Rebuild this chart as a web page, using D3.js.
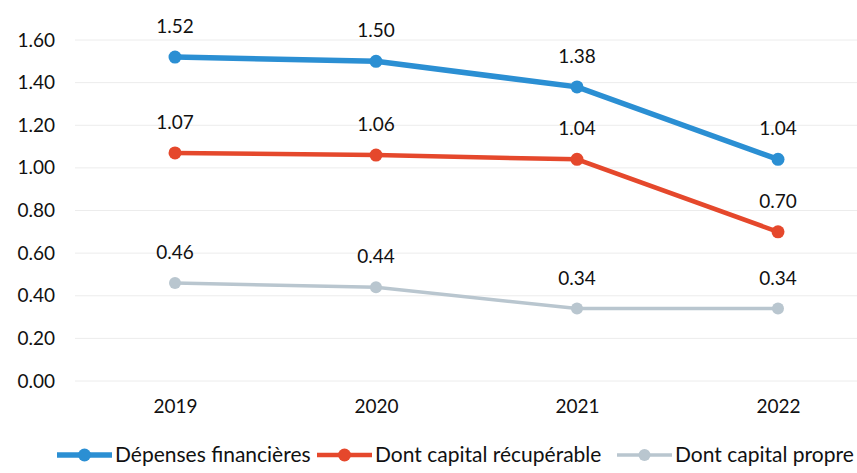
<!DOCTYPE html>
<html>
<head>
<meta charset="utf-8">
<script src="https://cdn.jsdelivr.net/npm/d3@7"></script>
<style>
  body { margin: 0; background: #fff; }
  svg { display: block; font-family: Lato, "Open Sans", sans-serif; }
</style>
</head>
<body>
<svg id="chart"></svg>
<script>
"use strict"

const WIDTH = 857;
const HEIGHT = 473;
const MARGIN = { left: 75, right: 0, top: 40, bottom: 92 };

// data
const YEARS = ["2019", "2020", "2021", "2022"];
const DEPENSES = [1.52, 1.50, 1.38, 1.04];
const CAPITAL_RECUP = [1.07, 1.06, 1.04, 0.70];
const CAPITAL_PROPRE = [0.46, 0.44, 0.34, 0.34];
const Y_TICKS = [0, 0.2, 0.4, 0.6, 0.8, 1.0, 1.2, 1.4, 1.6];

const SERIES = [
    { name: "Dépenses financières", values: DEPENSES, color: "#2b8fd3", width: 5.5, r: 6.5 },
    { name: "Dont capital récupérable", values: CAPITAL_RECUP, color: "#e5482c", width: 4.5, r: 6.5 },
    { name: "Dont capital propre", values: CAPITAL_PROPRE, color: "#b9c6cf", width: 3.5, r: 6 }
];

const svg = d3.select("#chart").attr("width", WIDTH).attr("height", HEIGHT);

const x = d3.scalePoint(YEARS, [175, 778]);
const y = d3.scaleLinear([0, 1.6], [HEIGHT - MARGIN.bottom, MARGIN.top]);

// gridlines
svg.append("g")
    .selectAll("line")
    .data(Y_TICKS)
    .join("line")
    .attr("x1", MARGIN.left)
    .attr("x2", WIDTH - MARGIN.right)
    .attr("y1", d => y(d))
    .attr("y2", d => y(d))
    .attr("stroke", "#ececec")
    .attr("stroke-width", 1);

// y axis labels
const yAxis = svg.append("g")
    .attr("transform", `translate(${MARGIN.left - 20},0)`)
    .call(d3.axisLeft(y).tickValues(Y_TICKS).tickFormat(d3.format(".2f")).tickSize(0).tickPadding(0));
yAxis.select(".domain").remove();
yAxis.selectAll("text")
    .attr("font-size", 19)
    .attr("font-family", "Lato, sans-serif")
    .attr("fill", "#111");

// x axis labels
const xAxis = svg.append("g")
    .attr("transform", `translate(0,${HEIGHT - MARGIN.bottom + 18})`)
    .call(d3.axisBottom(x).tickSize(0).tickPadding(0));
xAxis.select(".domain").remove();
xAxis.selectAll("text")
    .attr("font-size", 19)
    .attr("font-family", "Lato, sans-serif")
    .attr("fill", "#111");

const line = d3.line()
    .x((d, i) => x(YEARS[i]))
    .y(d => y(d));

// draw series back to front
const series = svg.append("g");
SERIES.slice().reverse().forEach(s => {
    const g = series.append("g");
    g.append("path")
        .attr("d", line(s.values))
        .attr("fill", "none")
        .attr("stroke", s.color)
        .attr("stroke-width", s.width);
    g.selectAll("circle")
        .data(s.values)
        .join("circle")
        .attr("cx", (d, i) => x(YEARS[i]))
        .attr("cy", d => y(d))
        .attr("r", s.r)
        .attr("fill", s.color);
    g.selectAll("text")
        .data(s.values)
        .join("text")
        .attr("x", (d, i) => x(YEARS[i]))
        .attr("y", d => y(d) - 24)
        .attr("text-anchor", "middle")
        .attr("font-size", 19)
        .attr("fill", "#111")
        .text(d => d3.format(".2f")(d));
});

// legend
const LEGEND_X = [57, 317, 617];
const legend = svg.append("g").attr("transform", `translate(0,455)`);
SERIES.forEach((s, i) => {
    const lg = legend.append("g").attr("transform", `translate(${LEGEND_X[i]},0)`);
    lg.append("line")
        .attr("x1", 0).attr("x2", 55)
        .attr("y1", 0).attr("y2", 0)
        .attr("stroke", s.color)
        .attr("stroke-width", s.width);
    lg.append("circle")
        .attr("cx", 27.5).attr("cy", 0).attr("r", s.r)
        .attr("fill", s.color);
    lg.append("text")
        .attr("x", 58)
        .attr("y", 0)
        .attr("dy", "0.35em")
        .attr("font-size", 21)
        .attr("fill", "#111")
        .text(s.name);
});
</script>
</body>
</html>
